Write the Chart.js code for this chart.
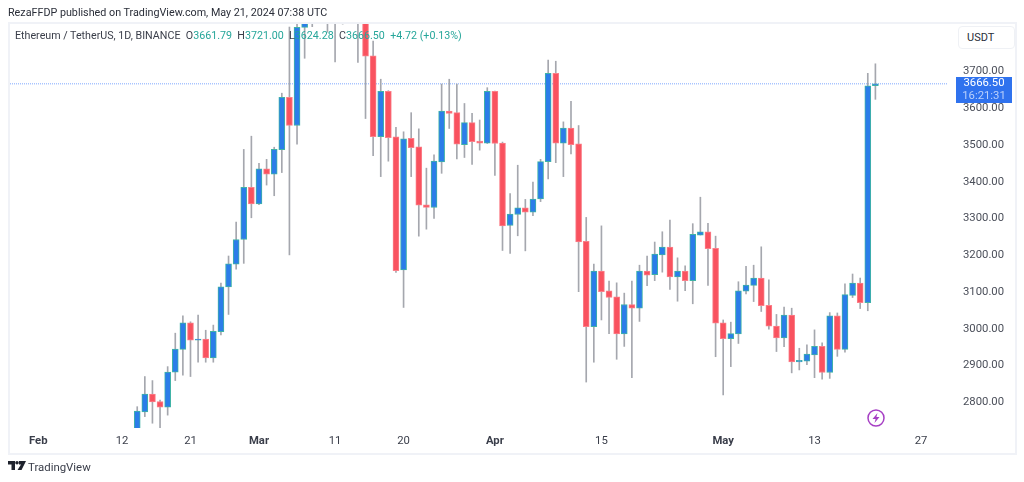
<!DOCTYPE html>
<html>
<head>
<meta charset="utf-8">
<title>ETH / USDT</title>
<script src="https://cdn.jsdelivr.net/npm/chart.js@4"></script>
<style>
    html, body { margin: 0; padding: 0; background: #fff; }
    body { width: 1024px; height: 482px; overflow: hidden; position: relative; font-family: Roboto, sans-serif; }
    canvas { position: absolute; left: 0; top: 0; }
    .abs { position: absolute; white-space: pre; }
    #frame { left: 8px; top: 22px; width: 1005px; height: 429px; border: 2px solid #f0f2f7; }
    #published { left: 8px; top: 6px; font-size: 10.75px; line-height: 14px; color: #2a2e39; }
    #legend { left: 15px; top: 29px; font-size: 10.7px; line-height: 14px; color: #3a3e4a; }
    #legend b { font-weight: 400; color: #26a69a; }
    #usdt { left: 958px; top: 26px; width: 55px; height: 21px; border: 1px solid #eff1f5; border-radius: 4px; font-size: 11px; line-height: 21px; color: #2a2e39; text-indent: 8px; background: #fff; }
    #tag { left: 956px; top: 77px; width: 56px; height: 26px; background: #2f72ee; color: #fff; font-size: 11.3px; line-height: 12.5px; text-align: center; }
    #tag span { color: #b9d0fb; display: block; }
    #brand { left: 28px; top: 460px; font-size: 11.4px; line-height: 14px; color: #3a3e4a; }
</style>
</head>
<body>
<canvas id="chart" width="1024" height="482"></canvas>
<div class="abs" id="frame"></div>
<div class="abs" id="published">RezaFFDP published on TradingView.com, May 21, 2024 07:38 UTC</div>
<div class="abs" id="legend">Ethereum / TetherUS, 1D, BINANCE  O<b>3661.79</b>  H<b>3721.00</b>  L<b>3624.28</b>  C<b>3666.50</b>  <b>+4.72 (+0.13%)</b></div>
<div class="abs" id="usdt">USDT</div>
<div class="abs" id="tag">3666.50<span>16:21:31</span></div>
<svg class="abs" style="left:866px;top:408px" width="20" height="20" viewBox="0 0 20 20">
    <circle cx="10" cy="10" r="8" fill="#fff" stroke="#a63fc4" stroke-width="1.5"/>
    <path d="M11.5 5 L6.5 11 H9.6 L8.5 15 L13.5 9 H10.4 Z" fill="#a63fc4"/>
</svg>
<svg class="abs" style="left:8px;top:461px" width="18" height="10" viewBox="0 0 36 20">
    <path d="M0 0 H14 V18 H7 V7 H0 Z M22 0 H36 L27 18 H19 L26 7 H22 Z" fill="#1e222d"/>
    <circle cx="18" cy="3.5" r="3.5" fill="#1e222d"/>
</svg>
<div class="abs" id="brand">TradingView</div>
<script>
const dates = [
    '02-14','02-15','02-16','02-17','02-18','02-19','02-20','02-21','02-22','02-23','02-24','02-25','02-26','02-27','02-28','02-29',
    '03-01','03-02','03-03','03-04','03-05','03-06','03-07','03-08','03-09','03-10','03-11','03-12','03-13','03-14','03-15','03-16',
    '03-17','03-18','03-19','03-20','03-21','03-22','03-23','03-24','03-25','03-26','03-27','03-28','03-29','03-30','03-31',
    '04-01','04-02','04-03','04-04','04-05','04-06','04-07','04-08','04-09','04-10','04-11','04-12','04-13','04-14','04-15',
    '04-16','04-17','04-18','04-19','04-20','04-21','04-22','04-23','04-24','04-25','04-26','04-27','04-28','04-29','04-30',
    '05-01','05-02','05-03','05-04','05-05','05-06','05-07','05-08','05-09','05-10','05-11','05-12','05-13','05-14','05-15',
    '05-16','05-17','05-18','05-19','05-20','05-21'
];
const opens = [
    2725,2774,2822,2802,2787,2882,2944,3016,2969,2972,2921,2992,3114,3176,3243,3385,
    3340,3435,3421,3487,3630,3553,3820,3860,3890,3920,3880,3850,3900,3950,3870,3743,
    3523,3646,3522,3160,3518,3495,3337,3330,3454,3592,3588,3501,3561,3511,3505,
    3646,3505,3281,3311,3329,3317,3353,3455,3695,3505,3546,3503,3238,3006,3157,
    3103,3087,2986,3066,3056,3157,3147,3201,3222,3141,3157,3131,3255,3264,3219,
    3016,2973,2986,3102,3118,3138,3064,3007,2975,3037,2910,2912,2929,2952,2881,3035,
    2944,3091,3124,3071,3661.79
];
const closes = [
    2776,2822,2801,2787,2882,2945,3016,2969,2972,2921,2993,3114,3177,3243,3385,3340,
    3435,3421,3488,3630,3553,3820,3860,3890,3920,3880,3850,3900,3950,3870,3742,3523,
    3646,3520,3158,3517,3493,3336,3330,3456,3592,3586,3502,3561,3509,3505,3646,
    3504,3280,3312,3329,3317,3353,3455,3695,3505,3546,3501,3236,3006,3157,3101,
    3085,2986,3066,3056,3157,3146,3203,3222,3141,3157,3131,3257,3264,3218,3015,
    2973,2987,3103,3119,3138,3063,3007,2975,3037,2910,2914,2931,2952,2881,3035,2944,
    3093,3124,3071,3661,3666.50
];
const highs = [
    2788,2870,2859,2806,2897,2988,3035,3019,3037,2996,3010,3124,3198,3290,3488,3524,
    3450,3461,3494,3641,3821,3850,3900,3925,3960,3980,3950,3940,3990,4000,3900,3783,
    3679,3648,3548,3536,3588,3544,3437,3473,3666,3679,3666,3613,3586,3568,3656,
    3647,3508,3368,3445,3352,3399,3461,3731,3728,3563,3619,3553,3303,3176,3280,
    3130,3125,3097,3130,3173,3198,3236,3264,3296,3193,3171,3286,3358,3287,3252,
    3024,3018,3128,3170,3173,3223,3133,3039,3059,3056,2947,2956,2997,2962,3044,3043,
    3122,3149,3138,3695,3721.00
];
const lows = [
    2715,2761,2743,2728,2765,2859,2874,2870,2909,2909,2909,2983,3039,3162,3178,3302,
    3338,3391,3362,3425,3201,3502,3736,3822,3845,3807,3726,3829,3840,3725,3572,3471,
    3414,3456,3153,3058,3414,3252,3271,3300,3423,3545,3462,3466,3447,3486,3504,
    3417,3213,3205,3253,3212,3308,3346,3408,3452,3414,3476,3101,2855,2909,3024,
    2987,2917,2952,2867,3020,3117,3131,3154,3107,3075,3104,3068,3255,3118,2924,
    2820,2897,2960,3095,3074,3047,2999,2938,2951,2880,2888,2902,2867,2863,2865,2925,
    2936,3085,3055,3049,3624.28
];
const lastPrice = 3666.50;
const tickDates = ['02-01','02-12','02-21','03-01','03-11','03-20','04-01','04-15','05-01','05-13','05-27'];
const tickLabels = ['Feb','12','21','Mar','11','20','Apr','15','May','13','27'];
const priceTicks = [2800, 2900, 3000, 3100, 3200, 3300, 3400, 3500, 3600, 3700];

const UP = '#2b7de9';
const UP_EDGE = '#3fb3a6';
const DOWN = '#f9525f';
const DOWN_EDGE = '#fb7f89';
const WICK = '#a5a7ae';

const day = s => Date.UTC(2024, +s.slice(0, 2) - 1, +s.slice(3)) / 864e5;
const xMin = day('02-12') - 14.98;
const xMax = day('02-12') + 108.54;

const isUp = opens.map((o, i) => closes[i] >= o);

new Chart(document.getElementById('chart').getContext('2d'), {
    type: 'bar',
    data: {
        datasets: [
            {
                data: dates.map((d, i) => ({ x: day(d), y: [opens[i], closes[i]] })),
                barThickness: 6,
                backgroundColor: isUp.map(u => u ? UP : DOWN),
                borderColor: isUp.map(u => u ? UP_EDGE : DOWN_EDGE),
                borderWidth: 1,
                borderSkipped: false
            },
            {
                data: dates.map((d, i) => ({ x: day(d), y: [lows[i], highs[i]] })),
                barThickness: 1,
                backgroundColor: WICK,
                borderWidth: 0
            },
            {
                type: 'line',
                data: [{ x: xMin, y: lastPrice }, { x: xMax, y: lastPrice }],
                borderColor: '#7fa8ff',
                borderWidth: 1,
                borderDash: [1, 1],
                pointRadius: 0
            }
        ]
    },
    options: {
        responsive: false,
        animation: false,
        grouped: false,
        layout: { padding: { left: 8, top: 23, right: 0, bottom: 30 } },
        plugins: { legend: { display: false }, tooltip: { enabled: false } },
        scales: {
            x: {
                type: 'linear',
                offset: false,
                min: xMin,
                max: xMax,
                grid: { display: false, drawTicks: false },
                border: { display: false },
                afterFit: s => { s.height = 24; },
                afterBuildTicks: s => { s.ticks = tickDates.map(d => ({ value: day(d) })); },
                ticks: {
                    autoSkip: false,
                    maxRotation: 0,
                    padding: 6,
                    color: '#3a3e4a',
                    font: c => ({
                        family: 'Roboto',
                        size: 11.3,
                        weight: c.tick && isNaN(tickLabels[tickDates.findIndex(d => day(d) === c.tick.value)]) ? 'bold' : 'normal'
                    }),
                    callback: v => tickLabels[tickDates.findIndex(d => day(d) === v)]
                }
            },
            y: {
                position: 'right',
                min: 2730,
                max: 3832,
                grid: { display: false, drawTicks: false },
                border: { display: false },
                afterFit: s => { s.width = 76; },
                afterBuildTicks: s => { s.ticks = priceTicks.map(v => ({ value: v })); },
                ticks: {
                    padding: 15,
                    color: '#4a4e59',
                    font: { family: 'Roboto', size: 11.3 },
                    callback: v => v.toFixed(2)
                }
            }
        }
    }
});
</script>
</body>
</html>
